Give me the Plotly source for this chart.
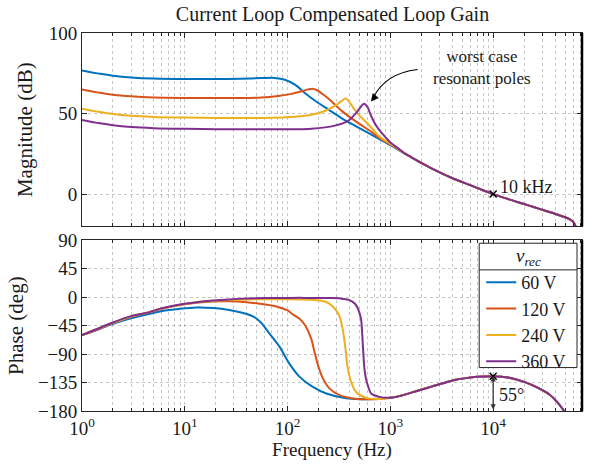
import plotly.graph_objects as go

# ---------------- data ----------------
series_names = ["60 V", "120 V", "240 V", "360 V"]
series_colors = ["#0072BD", "#D95319", "#EDB120", "#7E2F8E"]

# magnitude (dB) – low/mid frequency part of each series
f_mag_60 = [1, 1.5, 2, 3, 5, 10, 20, 35, 56, 75, 94, 118, 147, 184, 248, 334, 450, 607, 782, 1000, 1200]
mag_60 = [76.8, 74.7, 73.5, 72.4, 71.7, 71.4, 71.4, 71.6, 72.0, 72.1, 71.0, 67.9, 62.8, 58.1, 52.6, 47.2, 42.5, 38.0, 34.1, 30.4, 27.5]

f_mag_120 = [1, 1.5, 2, 3, 5, 10, 20, 40, 56, 81, 109, 137, 159, 174, 191, 222, 267, 334, 418, 523, 654, 782, 1000, 1200]
mag_120 = [65.0, 62.9, 61.7, 60.7, 60.0, 59.7, 59.6, 59.7, 59.9, 60.9, 62.2, 63.8, 65.0, 65.4, 64.6, 61.8, 57.7, 51.8, 47.0, 42.8, 38.6, 34.8, 30.8, 27.7]

f_mag_240 = [1, 1.5, 2, 3, 5, 10, 20, 56, 118, 171, 230, 288, 334, 366, 394, 434, 486, 563, 654, 782, 1000, 1200]
mag_240 = [53.0, 50.9, 49.7, 48.6, 47.9, 47.5, 47.3, 47.3, 48.0, 49.2, 51.6, 54.7, 57.7, 59.3, 57.7, 53.7, 49.6, 45.5, 41.2, 35.8, 31.2, 27.9]

f_mag_360 = [1, 1.5, 2, 3, 5, 10, 20, 56, 171, 288, 388, 468, 523, 555, 598, 630, 670, 726, 800, 908, 1000, 1200]
mag_360 = [46.0, 43.9, 42.7, 41.6, 40.9, 40.5, 40.3, 40.2, 40.6, 42.5, 45.5, 50.6, 54.7, 56.1, 54.1, 50.6, 46.6, 42.6, 38.9, 34.9, 32.0, 28.2]

# magnitude (dB) – high-frequency part shared by all series
f_mag_hf = [1400, 1585, 1995, 2512, 3162, 3981, 5012, 6310, 7943, 10000, 12589, 15849,
            19953, 25119, 31623, 39811, 50119, 56000, 60000, 63000, 66000, 70000]
mag_hf = [24.9, 23.0, 19.4, 16.0, 12.9, 10.0, 7.4, 4.9, 2.4, 0.0, -2.2, -4.2,
          -6.2, -8.2, -10.2, -12.2, -14.4, -15.8, -17.3, -19.6, -24.0, -32.0]

# phase (deg) – low/mid frequency part of each series
f_ph_60 = [1, 1.5, 2, 3, 4.25, 6, 9, 13, 19, 27, 40, 47, 55, 67, 84, 104, 131, 176, 238, 371, 500, 700, 908]
ph_60 = [-60, -50, -42.2, -33.5, -27.6, -22, -18.3, -16.2, -17.2, -20.3, -26.5, -31, -40, -58, -79, -105, -126, -142, -152.4, -160, -161.5, -161, -159.5]

f_ph_120 = [1, 1.5, 2, 3, 4.25, 6, 9, 13, 19, 27, 40, 53.5, 78, 100, 112, 131, 150, 170, 183, 197, 220, 256, 320, 430, 581, 841]
ph_120 = [-60, -49.5, -41, -31, -25, -18.5, -12.5, -9, -7, -6.5, -7.9, -10.3, -14.6, -21, -27, -34, -46, -66, -87, -107, -128, -144.6, -155, -160.2, -161.3, -160.5]

f_ph_240 = [1, 2, 3, 4.25, 6, 9, 13, 19, 27, 40, 60, 100, 131, 205, 240, 275, 300, 320, 344, 366, 385, 415, 464, 581, 782]
ph_240 = [-60, -40.5, -30.5, -24.5, -18, -12, -8, -5.8, -4.5, -3.5, -3.2, -3.3, -3.7, -5.3, -8, -14.6, -22, -30.2, -51, -82, -113, -134, -150, -159.3, -161]

f_ph_360 = [1, 2, 3, 4.25, 6, 9, 13, 19, 27, 40, 60, 84, 131, 275, 350, 400, 450, 481, 500, 519, 538, 559, 580, 603, 650, 782]
ph_360 = [-60, -40, -30, -24.8, -17.5, -11.5, -8, -5.3, -3.5, -2.2, -1.5, -1.2, -1.1, -1.5, -2.8, -4.6, -10, -17.2, -25, -35.3, -71.8, -113, -130, -139.4, -152.4, -157.7]

# phase (deg) – high-frequency part shared by all series
f_ph_hf = [1000, 1223, 1600, 2060, 2560, 3500, 4345, 5430, 7000, 10000, 14000, 20000, 27000, 35000, 42000, 48000, 52000]
ph_hf = [-159, -156.5, -151, -145.5, -141, -134.5, -130.5, -128, -126, -125, -127, -134, -143, -153.5, -166, -178, -186]

crossover_f = [10000]
crossover_mag = [0]
crossover_phase = [-125]

x_tick_vals = [1, 10, 100, 1000, 10000]
x_tick_text = ["10<sup>0</sup>", "10<sup>1</sup>", "10<sup>2</sup>", "10<sup>3</sup>", "10<sup>4</sup>"]
x_minor_vals = [m * d for d in [1, 10, 100, 1000, 10000] for m in range(2, 10)]
mag_ticks = [0, 50, 100]
phase_ticks = [-180, -135, -90, -45, 0, 45, 90]

# ---------------- figure ----------------
FONT = "Liberation Serif"
AX = "#262626"
GRID = "rgba(0,0,0,0.22)"
TXT = "#1a1a1a"

f_mag = [f_mag_60, f_mag_120, f_mag_240, f_mag_360]
mags = [mag_60, mag_120, mag_240, mag_360]
f_ph = [f_ph_60, f_ph_120, f_ph_240, f_ph_360]
phs = [ph_60, ph_120, ph_240, ph_360]

fig = go.Figure()
for i in range(4):
    fig.add_trace(go.Scatter(
        x=f_mag[i] + f_mag_hf, y=mags[i] + mag_hf, mode="lines",
        line=dict(color=series_colors[i], width=2, shape="spline", smoothing=0.8),
        name=series_names[i], showlegend=False, xaxis="x", yaxis="y"))
for i in range(4):
    fig.add_trace(go.Scatter(
        x=f_ph[i] + f_ph_hf, y=phs[i] + ph_hf, mode="lines",
        line=dict(color=series_colors[i], width=2, shape="spline", smoothing=0.8),
        name=series_names[i], showlegend=True, xaxis="x2", yaxis="y2"))

fig.add_trace(go.Scatter(x=crossover_f, y=crossover_mag, mode="markers",
                         marker=dict(symbol="x-thin", size=7, line=dict(color="black", width=1.5)),
                         showlegend=False, xaxis="x", yaxis="y", hoverinfo="skip"))
fig.add_trace(go.Scatter(x=crossover_f, y=crossover_phase, mode="markers",
                         marker=dict(symbol="x-thin", size=7, line=dict(color="black", width=1.5)),
                         showlegend=False, xaxis="x2", yaxis="y2", hoverinfo="skip"))

W, H = 595, 466
ml, mr, mt, mb = 82, 12, 33, 50
pw, ph_ = W - ml - mr, H - mt - mb
def px(x):
    return (x - ml) / pw
def py(y):
    return (H - mb - y) / ph_

top_dom = [py(229), 1.0]
bot_dom = [0.0, py(243)]
xrange_log = [0, 4.864]

common_x = dict(type="log", range=xrange_log, showline=True, linecolor=AX, linewidth=1, mirror="ticks",
                ticks="inside", ticklen=5, tickcolor=AX, tickmode="array", tickvals=x_tick_vals,
                showgrid=True, gridcolor=GRID, griddash="dot", gridwidth=1, zeroline=False,
                tickfont=dict(family=FONT, size=19, color=TXT),
                minor=dict(tickmode="array", tickvals=x_minor_vals, ticks="inside", ticklen=3,
                           tickcolor=AX, showgrid=True, gridcolor=GRID, griddash="dot", gridwidth=1))
ycommon = dict(showline=True, linecolor=AX, linewidth=1, mirror="ticks", ticks="inside", ticklen=5,
               tickcolor=AX, showgrid=True, gridcolor=GRID, griddash="dot", zeroline=False,
               tickmode="array", tickfont=dict(family=FONT, size=19, color=TXT))
fig.update_layout(
    width=W, height=H, margin=dict(l=ml, r=mr, t=mt, b=mb),
    paper_bgcolor="white", plot_bgcolor="white",
    font=dict(family=FONT, size=19, color=TXT),
    title=dict(text="Current Loop Compensated Loop Gain", x=(ml + pw / 2) / W, xanchor="center",
               y=1 - 14 / H, yanchor="middle", font=dict(size=20, family=FONT, color=TXT)),
    xaxis=dict(common_x, domain=[0, 1], anchor="y", showticklabels=False),
    yaxis=dict(ycommon, domain=top_dom, range=[-20.1, 100], tickvals=mag_ticks, anchor="x",
               title=dict(text="Magnitude (dB)", font=dict(size=21, family=FONT, color=TXT), standoff=10)),
    xaxis2=dict(common_x, domain=[0, 1], anchor="y2", ticktext=x_tick_text,
                title=dict(text="Frequency (Hz)", font=dict(size=19, family=FONT, color=TXT), standoff=2)),
    yaxis2=dict(ycommon, domain=bot_dom, range=[-180, 90], tickvals=phase_ticks, anchor="x2",
                title=dict(text="Phase (deg)", font=dict(size=21, family=FONT, color=TXT), standoff=8)),
    legend=dict(x=px(482), y=py(267), xanchor="left", yanchor="top",
                bgcolor="rgba(0,0,0,0)", borderwidth=0,
                font=dict(size=18, family=FONT, color=TXT),
                itemwidth=30, tracegroupgap=0),
    showlegend=True,
)

# legend frame, title and title separator
fig.add_shape(type="rect", xref="paper", yref="paper", x0=px(480), x1=px(578), y0=py(372), y1=py(246),
              fillcolor="white", line=dict(color=AX, width=1), layer="above")
fig.add_shape(type="line", xref="paper", yref="paper", x0=px(480), x1=px(578), y0=py(273), y1=py(273),
              line=dict(color=AX, width=1), layer="above")
fig.add_annotation(xref="paper", yref="paper", x=px(529), y=py(259.5), text="<i>v</i><sub><i>rec</i></sub>",
                   showarrow=False, xanchor="center", yanchor="middle",
                   font=dict(size=19, family=FONT, color=TXT))

# heavier right edges of both axes boxes
fig.add_shape(type="line", xref="x domain", yref="y domain", x0=1, x1=1, y0=0, y1=1,
              line=dict(color="black", width=2.5))
fig.add_shape(type="line", xref="x2 domain", yref="y2 domain", x0=1, x1=1, y0=0, y1=1,
              line=dict(color="black", width=2.5))

# curved arrow to the resonant peaks
fig.add_shape(type="path", xref="paper", yref="paper",
              path=f"M {px(418.3)},{py(70)} Q {px(385)},{py(74)} {px(373.5)},{py(99.5)}",
              line=dict(color="black", width=1.2))
fig.add_annotation(xref="paper", yref="paper", x=px(371.5), y=py(102.5), ax=4, ay=-5, text="",
                   showarrow=True, arrowhead=2, arrowsize=1.3, arrowwidth=1.2, arrowcolor="black")
fig.add_annotation(xref="paper", yref="paper", x=px(483), y=py(68), text="worst case<br>resonant poles",
                   showarrow=False, xanchor="center", yanchor="middle",
                   font=dict(size=17, family=FONT, color=TXT))

# 10 kHz crossover label
fig.add_annotation(xref="x", yref="y", x=4, y=0, text="10 kHz", showarrow=False,
                   xanchor="left", yanchor="middle", xshift=5, yshift=7,
                   font=dict(size=18, family=FONT, color=TXT))

# phase margin arrow
fig.add_annotation(xref="x2", yref="y2", x=4, y=-125, axref="x2", ayref="y2", ax=4, ay=-180,
                   text="", showarrow=True, arrowhead=2, arrowside="end+start", arrowsize=0.8,
                   arrowwidth=1.3, arrowcolor="#333333")
fig.add_annotation(xref="x2", yref="y2", x=4, y=-155, text="55°", showarrow=False,
                   xanchor="left", yanchor="middle", xshift=4,
                   font=dict(size=18, family=FONT, color=TXT))

fig.write_html("out.html")
